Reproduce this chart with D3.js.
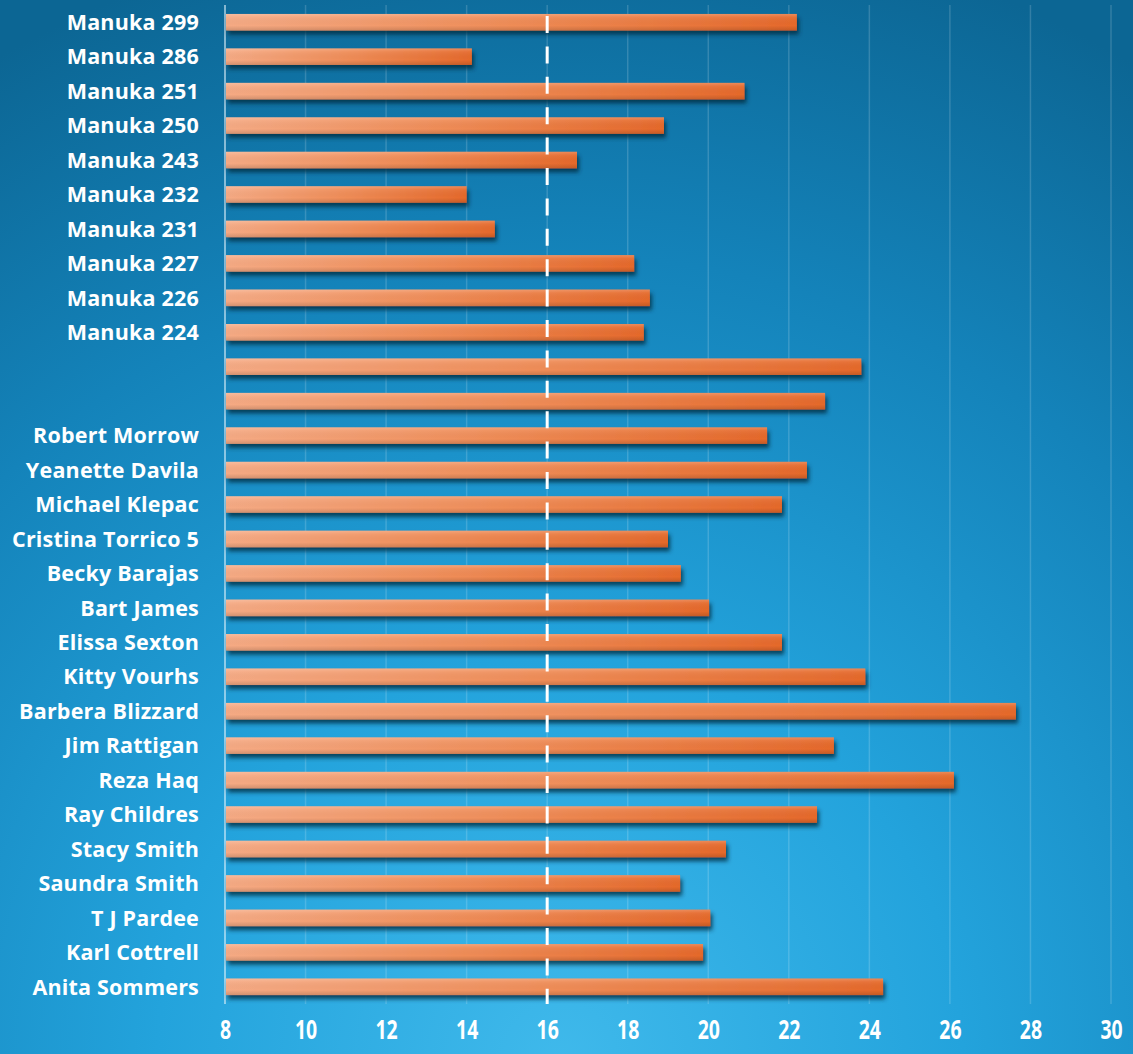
<!DOCTYPE html>
<html>
<head>
<meta charset="utf-8">
<script src="https://cdn.jsdelivr.net/npm/d3@7"></script>
<style>
  html, body { margin: 0; padding: 0; background: #0f6c9c; }
  svg { display: block; }
</style>
</head>
<body>
<svg id="chart" width="1133" height="1054"></svg>
<script>
// Row labels, top to bottom (two rows carry no name)
const categories = [
  "Manuka 299", "Manuka 286", "Manuka 251", "Manuka 250", "Manuka 243",
  "Manuka 232", "Manuka 231", "Manuka 227", "Manuka 226", "Manuka 224",
  "", "",
  "Robert Morrow", "Yeanette Davila", "Michael Klepac", "Cristina Torrico 5",
  "Becky Barajas", "Bart James", "Elissa Sexton", "Kitty Vourhs",
  "Barbera Blizzard", "Jim Rattigan", "Reza Haq", "Ray Childres",
  "Stacy Smith", "Saundra Smith", "T J Pardee", "Karl Cottrell", "Anita Sommers"
];

// Value for each row
const values = [
  22.2, 14.13, 20.9, 18.9, 16.74,
  14.0, 14.7, 18.16, 18.55, 18.4,
  23.8, 22.9,
  21.46, 22.45, 21.83, 19.0,
  19.32, 20.02, 21.83, 23.9,
  27.64, 23.12, 26.1, 22.7,
  20.44, 19.3, 20.05, 19.87, 24.34
];

// Axis ticks and the reference line
const tickValues = [8, 10, 12, 14, 16, 18, 20, 22, 24, 26, 28, 30];
const referenceValue = [16];

const W = 1133, H = 1054;
const margin = { top: 5, right: 22, bottom: 50, left: 225 };

const svg = d3.select("#chart");
const defs = svg.append("defs");

// Background: light blue glow rising from the bottom centre
const bg = defs.append("radialGradient")
  .attr("id", "bgGrad")
  .attr("gradientUnits", "userSpaceOnUse")
  .attr("cx", 560).attr("cy", 1060).attr("r", 1150)
  .attr("fx", 560).attr("fy", 1060);
bg.append("stop").attr("offset", 0).attr("stop-color", "#3fb9eb");
bg.append("stop").attr("offset", 0.35).attr("stop-color", "#23a3dc");
bg.append("stop").attr("offset", 0.7).attr("stop-color", "#1483ba");
bg.append("stop").attr("offset", 1).attr("stop-color", "#0c6694");

// Bar fill: salmon on the left to deep orange on the right
const barGrad = defs.append("linearGradient")
  .attr("id", "barGrad").attr("x1", 0).attr("x2", 1).attr("y1", 0).attr("y2", 0);
barGrad.append("stop").attr("offset", 0).attr("stop-color", "#f5aa84");
barGrad.append("stop").attr("offset", 0.5).attr("stop-color", "#ef8c57");
barGrad.append("stop").attr("offset", 1).attr("stop-color", "#e5692b");

// Bar sheen: slightly lighter top edge, darker bottom edge
const sheen = defs.append("linearGradient")
  .attr("id", "sheen").attr("x1", 0).attr("x2", 0).attr("y1", 0).attr("y2", 1);
sheen.append("stop").attr("offset", 0).attr("stop-color", "#fff").attr("stop-opacity", 0.22);
sheen.append("stop").attr("offset", 0.2).attr("stop-color", "#fff").attr("stop-opacity", 0.06);
sheen.append("stop").attr("offset", 0.7).attr("stop-color", "#000").attr("stop-opacity", 0);
sheen.append("stop").attr("offset", 1).attr("stop-color", "#000").attr("stop-opacity", 0.14);

// Soft drop shadow under the bars
const shadow = defs.append("filter").attr("id", "barShadow")
  .attr("x", "-5%").attr("y", "-40%").attr("width", "115%").attr("height", "200%");
shadow.append("feDropShadow")
  .attr("dx", 2).attr("dy", 4).attr("stdDeviation", 2.2)
  .attr("flood-color", "#062a40").attr("flood-opacity", 0.8);

svg.append("rect").attr("width", W).attr("height", H).attr("fill", "url(#bgGrad)");

const x = d3.scaleLinear()
  .domain([tickValues[0], tickValues[tickValues.length - 1]])
  .range([margin.left, W - margin.right]);

const y = d3.scaleBand()
  .domain(d3.range(categories.length))
  .range([margin.top, H - margin.bottom])
  .paddingInner(0.52)
  .paddingOuter(0.26);

const plotTop = margin.top, plotBottom = H - margin.bottom;

// Vertical gridlines
svg.append("g").selectAll("line")
  .data(tickValues.slice(1))
  .join("line")
  .attr("x1", d => x(d)).attr("x2", d => x(d))
  .attr("y1", plotTop).attr("y2", plotBottom)
  .attr("stroke", "#ffffff").attr("stroke-opacity", 0.16).attr("stroke-width", 1.5);

// Category axis line
svg.append("line")
  .attr("x1", x(tickValues[0])).attr("x2", x(tickValues[0]))
  .attr("y1", plotTop).attr("y2", plotBottom)
  .attr("stroke", "#e6f4fb").attr("stroke-opacity", 0.75).attr("stroke-width", 1.5);

// Bars
const bars = svg.append("g").selectAll("g")
  .data(values.map((v, i) => ({ i, v })))
  .join("g");

bars.append("rect")
  .attr("x", x(tickValues[0]) + 1)
  .attr("y", d => y(d.i))
  .attr("width", d => x(d.v) - x(tickValues[0]) - 1)
  .attr("height", y.bandwidth())
  .attr("fill", "url(#barGrad)")
  .attr("filter", "url(#barShadow)");

bars.append("rect")
  .attr("x", x(tickValues[0]) + 1)
  .attr("y", d => y(d.i))
  .attr("width", d => x(d.v) - x(tickValues[0]) - 1)
  .attr("height", y.bandwidth())
  .attr("fill", "url(#sheen)");

// Dashed reference line
svg.append("g").selectAll("line")
  .data(referenceValue)
  .join("line")
  .attr("x1", d => x(d)).attr("x2", d => x(d))
  .attr("y1", plotTop).attr("y2", plotBottom)
  .attr("stroke", "#ffffff").attr("stroke-width", 3)
  .attr("stroke-dasharray", "17,13.4")
  .attr("stroke-dashoffset", 19.4);

// Row labels
svg.append("g").selectAll("text")
  .data(categories)
  .join("text")
  .attr("x", 199)
  .attr("y", (d, i) => y(i) + y.bandwidth() / 2)
  .attr("dy", "0.36em")
  .attr("text-anchor", "end")
  .attr("fill", "#ffffff")
  .attr("font-family", "'Open Sans', 'Noto Sans', sans-serif")
  .attr("font-weight", 700)
  .attr("font-size", 21.5)
  .attr("letter-spacing", 0.2)
  .text(d => d);

// Value axis: tall, condensed digits
const xAxis = d3.axisBottom(x).tickValues(tickValues).tickSize(0).tickPadding(0);
const ax = svg.append("g")
  .attr("transform", `translate(0, ${1029})`)
  .call(xAxis);
ax.select(".domain").remove();
ax.selectAll("text")
  .attr("fill", "#ffffff")
  .attr("y", 0)
  .attr("dy", "0.36em")
  .attr("transform", "scale(0.72,1)")
  .attr("font-family", "'Open Sans', Lato, sans-serif")
  .attr("font-weight", 700)
  .attr("font-size", 27);
</script>
</body>
</html>
